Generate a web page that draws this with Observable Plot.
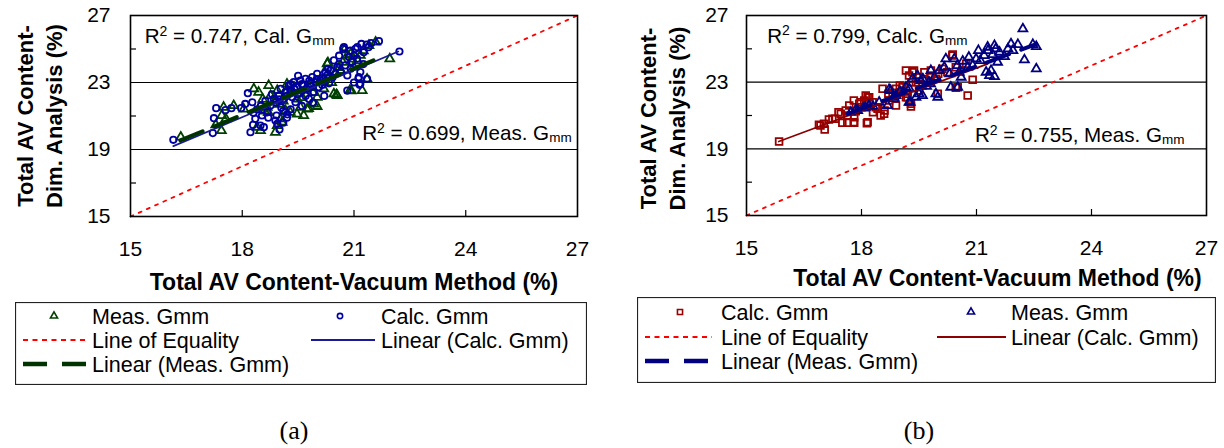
<!DOCTYPE html>
<html><head><meta charset="utf-8">
<script src="https://cdn.jsdelivr.net/npm/d3@7"></script>
<script src="https://cdn.jsdelivr.net/npm/@observablehq/plot@0.6"></script>
<style>
body{margin:0;background:#fff;}
#root{position:relative;width:1224px;height:448px;overflow:hidden;background:#fff;font-family:"Liberation Sans",Arial,sans-serif;}
#root > svg{position:absolute;top:0;}
.caption{position:absolute;font-family:"Liberation Serif","Times New Roman",serif;font-size:26px;transform:translate(-50%,-50%);white-space:nowrap;}
</style></head><body><div id="root"></div>
<script>
// ---------- shared axis data ----------
const xTicks = [15, 18, 21, 24, 27];
const xMinorTicks = [18, 21, 24];
const yTicks = [15, 19, 23, 27];
const yMinorTicks = [17, 21, 25];
const yGridLines = [19, 23];
const equalityLine = [[15, 15], [27, 27]];
const xTitle = "Total AV Content-Vacuum Method (%)";
const yTitle = "Total AV Content-\nDim. Analysis (%)";
const legendLabelsA = ["Meas. Gmm", "Calc. Gmm", "Line of Equality", "Linear (Calc. Gmm)", "Linear (Meas. Gmm)"];
const legendLabelsB = ["Calc. Gmm", "Meas. Gmm", "Line of Equality", "Linear (Calc. Gmm)", "Linear (Meas. Gmm)"];
const r2A = ["0.747, Cal.", "0.699, Meas."];
const r2B = ["0.799, Calc.", "0.755, Meas."];

// ---------- panel (a) data ----------
const measA = [[16.35,19.74],[17.29,20.47],[17.44,20.13],[17.45,21.03],[17.50,21.52],[17.56,20.83],[17.77,21.62],[18.04,21.42],
[18.31,22.62],[18.40,20.33],[18.44,22.42],[18.49,20.13],[18.6,21.3],[18.67,21.52],[18.71,22.82],[18.76,22.22],[18.89,20.03],
[18.94,22.52],[18.94,20.43],[19.03,20.83],[19.07,20.63],[19.1,21.9],[19.16,21.32],[19.29,21.22],[19.35,22.4],[19.47,21.12],
[19.47,22.02],[19.56,21.52],[19.65,21.03],[19.7,22.6],[19.74,21.42],[19.78,21.45],[19.85,22.9],[19.92,21.72],[20.01,22.12],
[20.01,21.57],[20.1,23.2],[20.19,22.62],[20.28,24.12],[20.30,24.18],[20.35,23.4],[20.46,22.32],[20.53,22.28],[20.55,22.22],
[20.6,23.9],[20.64,23.72],[20.74,24.95],[20.82,24.62],[20.89,22.52],[20.93,22.50],[20.91,24.71],[20.99,23.92],[21.1,24.3],
[21.17,24.62],[21.22,22.52],[21.35,23.20],[21.40,25.21],[21.58,25.41],[21.96,24.41],[19.2,22.9],[18.55,22.0],[19.0,21.7],
[19.55,22.35],[20.4,23.0],[18.9,22.0],[19.2,22.5],[19.4,22.7],[19.6,22.1],[19.9,22.4],[20.2,23.6],[20.7,24.2],[20.95,24.4],
[21.25,24.9],[18.7,21.2],[19.8,22.7],[20.5,23.6]];
const calcA = [[16.15,19.58],[17.21,19.98],[17.24,20.87],[17.30,21.47],[17.55,21.35],[17.71,21.47],[17.97,21.47],[18.08,21.72],
[18.15,22.36],[18.27,21.82],[18.22,20.03],[18.29,20.47],[18.35,20.83],[18.49,20.43],[18.53,21.03],[18.58,20.33],[18.62,21.9],
[18.67,21.22],[18.76,21.62],[18.85,22.02],[18.89,20.73],[18.92,21.03],[18.94,20.53],[18.98,22.22],[19.03,22.62],[19.05,21.5],
[19.12,22.02],[19.16,22.42],[19.21,21.10],[19.25,22.82],[19.29,22.52],[19.34,22.12],[19.38,23.02],[19.43,21.82],[19.47,22.72],
[19.5,22.3],[19.56,23.12],[19.61,22.52],[19.65,22.82],[19.70,23.22],[19.74,22.62],[19.79,22.02],[19.83,22.92],[19.88,23.32],
[19.92,22.42],[19.97,23.02],[20.01,23.52],[20.06,22.72],[20.10,23.12],[20.15,22.85],[20.19,23.22],[20.24,23.6],[20.28,23.42],
[20.33,22.95],[20.37,23.72],[20.42,23.3],[20.46,24.32],[20.5,23.5],[20.55,23.92],[20.60,24.6],[20.64,23.62],[20.71,25.01],
[20.73,25.11],[20.77,24.02],[20.82,23.42],[20.82,22.52],[20.86,24.52],[20.91,23.82],[20.95,24.22],[21.04,25.01],[21.08,24.42],
[21.09,25.11],[21.12,23.24],[21.13,23.32],[21.15,22.86],[21.17,23.62],[21.17,22.92],[21.26,24.81],[21.34,25.27],[21.35,23.22],
[21.39,25.11],[21.46,25.35],[21.67,25.47],[22.22,24.85],[21.0,23.0],[21.25,24.1],[18.4,21.4],[18.7,20.9],[19.0,20.2],
[19.1,20.6],[19.3,21.4],[19.6,21.6],[19.9,21.8],[20.2,22.2],[19.2,20.9],[18.8,22.3],[19.0,22.0],[19.2,22.2],[19.4,22.6],
[19.6,22.9],[19.8,23.1],[20.0,23.2],[20.2,23.0],[19.3,22.9],[19.5,23.4],[18.9,21.8],[19.1,21.3],[19.7,22.2],[20.3,23.8],
[20.6,24.1],[20.9,24.9],[21.0,24.6],[21.2,25.3],[18.5,21.6],[18.3,21.2]];
const fitCalcA = [[16.15,19.2],[22.19,24.85]];
const fitMeasA = [[16.34,19.54],[21.62,24.41]];

// ---------- panel (b) data ----------
const calcB = [[15.85,19.44],[16.89,20.44],[17.02,20.50],[17.15,20.76],[17.24,20.80],[17.31,20.80],[17.46,21.10],[17.50,20.56],
[17.59,21.30],[17.63,20.56],[17.63,21.00],[17.68,21.60],[17.81,20.56],[17.81,20.90],[17.94,21.70],[18.07,21.90],[18.11,22.20],
[18.16,22.10],[18.16,20.60],[18.29,21.80],[18.37,21.50],[18.50,21.00],[18.55,22.60],[18.72,21.90],[18.81,22.36],[18.9,21.6],
[19.07,22.70],[19.07,22.50],[19.16,22.10],[19.16,23.70],[19.20,22.10],[19.24,23.40],[19.29,21.70],[19.29,21.54],[19.33,23.60],
[19.37,23.70],[19.42,23.00],[19.50,22.50],[19.59,22.80],[19.64,23.60],[19.68,23.10],[19.81,23.70],[19.94,23.20],[19.99,22.30],
[20.11,23.80],[20.24,23.60],[20.37,24.60],[20.38,24.66],[20.46,23.90],[20.46,22.66],[20.51,22.70],[20.73,24.10],[20.77,22.20],
[20.90,23.14],[17.4,21.2],[17.85,21.25],[18.3,21.2],[18.6,21.3],[18.0,21.5],[16.93,20.4],[17.04,20.16],[17.8,20.6],
[18.14,20.54],[17.98,21.8],[17.8,21.9],[18.2,22.1],[18.59,21.1],[18.42,21.4],[19.0,22.8],[19.3,23.0],[19.5,23.3],[19.8,23.4],
[20.0,23.5],[19.2,22.3],[18.7,22.3],[18.9,22.6]];
const measB = [[17.72,21.2],[17.90,21.3],[18.05,21.45],[18.2,21.6],[18.46,21.8],[18.68,21.6],[18.72,22.56],[18.9,22.2],
[19.0,22.45],[19.16,22.7],[19.27,21.80],[19.33,23.2],[19.42,22.10],[19.46,23.4],[19.50,22.3],[19.55,23.10],[19.59,22.20],
[19.7,22.75],[19.76,23.0],[19.81,23.70],[19.94,22.3],[19.99,22.10],[20.03,23.7],[20.16,23.90],[20.2,24.4],[20.33,22.7],
[20.42,24.40],[20.51,22.7],[20.55,23.60],[20.64,24.26],[20.77,23.90],[20.99,24.40],[21.2,24.60],[21.25,23.60],[21.29,25.10],
[21.34,23.40],[21.38,23.70],[21.42,24.66],[21.47,25.20],[21.47,23.34],[21.6,24.8],[21.73,24.54],[21.82,25.00],[21.90,25.30],
[22.08,25.26],[22.21,26.20],[22.25,24.34],[22.47,25.26],[22.56,25.14],[22.56,23.80],[20.9,24.0],[21.05,24.9],[20.6,23.3],
[19.9,23.3],[19.25,22.6],[18.85,22.0],[21.55,24.2],[21.95,24.9],[17.85,21.35],[18.1,21.5],[18.3,21.55],[18.76,22.5],
[18.85,22.1],[19.1,22.4],[19.24,21.8],[20.5,24.0],[20.8,24.5],[21.1,24.3],[21.3,24.9],[21.5,25.0],[20.3,23.5],[19.6,23.2],
[19.8,22.9]];
const fitCalcB = [[15.84,19.44],[21.29,24.10]];
const fitMeasB = [[17.64,21.1],[22.56,25.28]];

const FONT = "Liberation Sans, Arial, sans-serif";
const X = d => d[0], Y = d => d[1];

function richify(svg) {
  const ns = "http://www.w3.org/2000/svg";
  svg.querySelectorAll("text").forEach(t => {
    const s = t.textContent;
    const m = s.match(/^R2( = .* G)mm$/);
    if (!m) return;
    t.textContent = "";
    const add = (txt, attrs = {}) => {
      const ts = document.createElementNS(ns, "tspan");
      ts.textContent = txt;
      for (const k in attrs) ts.setAttribute(k, attrs[k]);
      t.appendChild(ts);
    };
    add("R");
    add("2", {"font-size": "14px", dy: "-7.5"});
    add(m[1], {dy: "7.5"});
    add("mm", {"font-size": "13.5px", dy: "2"});
  });
}

function panel(cfg) {
  const W = 612, H = 300;
  const plotW = W - cfg.ml - cfg.mr, plotH = H - cfg.mt - cfg.mb;
  const svg = Plot.plot({
    width: W, height: H,
    marginLeft: cfg.ml, marginRight: cfg.mr, marginTop: cfg.mt, marginBottom: cfg.mb,
    style: {fontFamily: FONT, fontSize: "21px", background: "white", color: "black", overflow: "visible"},
    x: {domain: [15, 27]},
    y: {domain: [15, 27]},
    marks: [
      Plot.ruleY(yGridLines, {stroke: "black", strokeWidth: 1.2}),
      Plot.ruleX(xMinorTicks, {insetTop: plotH - 6, stroke: "black", strokeWidth: 1.2}),
      Plot.ruleY(yMinorTicks, {insetRight: plotW - 6, stroke: "black", strokeWidth: 1.2}),
      Plot.axisX(xTicks, {tickSize: 0, tickPadding: 25, label: null, fontSize: 21}),
      Plot.axisY(yTicks, {tickSize: 0, tickPadding: cfg.yPad, label: null, fontSize: 21}),
      Plot.line(equalityLine, {x: X, y: Y, stroke: "#FF0000", strokeWidth: 1.8, strokeDasharray: "3,6"}),
      ...cfg.series.map(s => Plot.dot(s.data, {x: X, y: Y, symbol: s.symbol, r: s.r, stroke: s.color, fill: "none", strokeWidth: 1.8})),
      Plot.line(cfg.fitSolid.data, {x: X, y: Y, stroke: cfg.fitSolid.color, strokeWidth: 1.7}),
      Plot.line(cfg.fitDash.data, {x: X, y: Y, stroke: cfg.fitDash.color, strokeWidth: 4, strokeDasharray: "24,13"}),
      Plot.frame({stroke: "black", strokeWidth: 1.6}),
      Plot.text([xTitle], {text: d => d, frameAnchor: "bottom", dy: cfg.xTitleDy, dx: cfg.xTitleDx, fontWeight: "bold", fontSize: 23, lineAnchor: "middle", textAnchor: "middle"}),
      Plot.text([yTitle], {text: d => d, frameAnchor: "left", rotate: -90, dx: cfg.yTitleDx, dy: cfg.yTitleDy, fontWeight: "bold", fontSize: 22, lineAnchor: "middle", textAnchor: "middle", lineHeight: 1.32}),
      Plot.text([cfg.annots[0]], {x: cfg.annPos[0][0], y: cfg.annPos[0][1], text: d => d, textAnchor: "start", lineAnchor: "middle", fontSize: 20.6}),
      Plot.text([cfg.annots[1]], {x: cfg.annPos[1][0], y: cfg.annPos[1][1], text: d => d, textAnchor: "start", lineAnchor: "middle", fontSize: 20.6})
    ]
  });
  svg.style.left = cfg.left + "px";
  richify(svg);
  return svg;
}

function legend(root, L) {
  const svg = d3.select(root).append("svg")
    .attr("width", L.w).attr("height", L.h)
    .style("position", "absolute").style("left", L.left + "px").style("top", L.top + "px")
    .style("font-family", FONT).style("font-size", "21.5px");
  svg.append("rect").attr("x", 0.5).attr("y", 0.5).attr("width", L.w - 1).attr("height", L.h - 1)
    .attr("fill", "white").attr("stroke", "#222").attr("stroke-width", 1.2);
  for (const it of L.items) {
    const y = L.rows[it.row], c = L.cols[it.col];
    if (it.symbol) {
      svg.append("path").attr("transform", `translate(${c.sym},${y})`)
        .attr("d", d3.symbol(it.symbol, it.size)())
        .attr("fill", "none").attr("stroke", it.color).attr("stroke-width", 1.6);
    } else {
      svg.append("line").attr("x1", c.l0).attr("x2", c.l1).attr("y1", y).attr("y2", y)
        .attr("stroke", it.color).attr("stroke-width", it.width).attr("stroke-dasharray", it.dash || null);
    }
    svg.append("text").attr("x", c.text).attr("y", y).attr("dy", "0.35em").text(it.label);
  }
}

const root = document.getElementById("root");
const greenA = "#004000", blueA = "#0000A0", redB = "#990000", navyB = "#000080";

root.appendChild(panel({
  left: 0, ml: 130, mr: 35, mt: 15, mb: 84, yPad: 20,
  xTitleDy: 66, xTitleDx: 0, yTitleDx: -92, yTitleDy: 0,
  series: [{data: measA, symbol: "triangle", r: 3.3, color: greenA}, {data: calcA, symbol: "circle", r: 3.2, color: blueA}],
  fitSolid: {data: fitCalcA, color: "#1a1a99"},
  fitDash: {data: fitMeasA, color: "#003300"},
  annots: ["R2 = " + r2A[0] + " Gmm", "R2 = " + r2A[1] + " Gmm"],
  annPos: [[15.38, 25.75], [21.22, 19.96]]
}));
root.appendChild(panel({
  left: 612, ml: 134, mr: 18, mt: 15, mb: 85, yPad: 18,
  xTitleDy: 63, xTitleDx: 21, yTitleDx: -85, yTitleDy: 3,
  series: [{data: calcB, symbol: "square", r: 3.8, color: redB}, {data: measB, symbol: "triangle", r: 3.3, color: navyB}],
  fitSolid: {data: fitCalcB, color: "#8B0000"},
  fitDash: {data: fitMeasB, color: navyB},
  annots: ["R2 = " + r2B[0] + " Gmm", "R2 = " + r2B[1] + " Gmm"],
  annPos: [[15.54, 25.77], [20.96, 19.8]]
}));

legend(root, {
  left: 15, top: 302, w: 572, h: 83, rows: [14, 38, 62],
  cols: [{sym: 39, text: 77, l0: 8, l1: 73}, {sym: 325, text: 366, l0: 296, l1: 360}],
  items: [
    {row: 0, col: 0, symbol: d3.symbolTriangle, size: 22, color: greenA, label: legendLabelsA[0]},
    {row: 0, col: 1, symbol: d3.symbolCircle, size: 22, color: blueA, label: legendLabelsA[1]},
    {row: 1, col: 0, color: "#FF0000", width: 2, dash: "5,4.5", label: legendLabelsA[2]},
    {row: 1, col: 1, color: "#1a1a99", width: 2, label: legendLabelsA[3]},
    {row: 2, col: 0, color: "#003300", width: 4.5, dash: "24,15", label: legendLabelsA[4]}
  ]
});
legend(root, {
  left: 637, top: 297, w: 579, h: 86, rows: [15, 40, 64],
  cols: [{sym: 43, text: 84, l0: 8, l1: 75}, {sym: 334, text: 374, l0: 300, l1: 369}],
  items: [
    {row: 0, col: 0, symbol: d3.symbolSquare, size: 26, color: redB, label: legendLabelsB[0]},
    {row: 0, col: 1, symbol: d3.symbolTriangle, size: 22, color: navyB, label: legendLabelsB[1]},
    {row: 1, col: 0, color: "#FF0000", width: 2, dash: "5,4.5", label: legendLabelsB[2]},
    {row: 1, col: 1, color: "#8B0000", width: 2, label: legendLabelsB[3]},
    {row: 2, col: 0, color: navyB, width: 4.5, dash: "24,15", label: legendLabelsB[4]}
  ]
});

for (const [t, x, y] of [["(a)", 294, 431], ["(b)", 919, 431]]) {
  const d = document.createElement("div");
  d.className = "caption"; d.textContent = t;
  d.style.left = x + "px"; d.style.top = y + "px";
  root.appendChild(d);
}
</script></body></html>
